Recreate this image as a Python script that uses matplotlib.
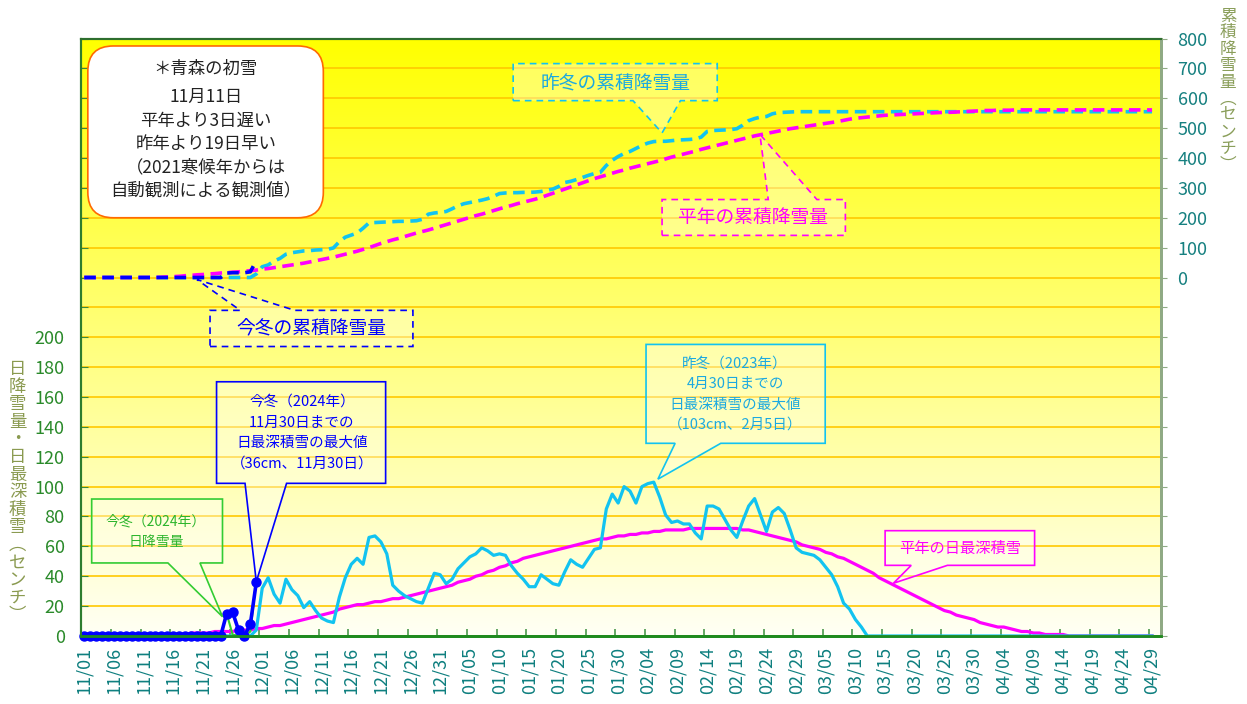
import matplotlib
matplotlib.use('Agg')
import matplotlib.pyplot as plt
from matplotlib.patches import Polygon, FancyBboxPatch
from matplotlib.ticker import FuncFormatter
import numpy as np
import pandas as pd

plt.rcParams['font.family'] = ['Noto Sans CJK JP', 'DejaVu Sans']

# 日付ラベル (11/01 - 04/29, 2月は29日まで)
dates = pd.date_range('2023-11-01', periods=181).strftime('%m/%d').tolist()

# 今冬 (2024年) 日最深積雪・日降雪量・累積降雪量 (11/01 - 11/30)
cur_depth = [0] * 24 + [15, 16, 4, 0, 8, 36]
cur_snow = [0] * 24 + [15, 1, 0, 0, 3, 38]
cur_cum = [0] * 24 + [15, 16, 16, 16, 19, 57]

# 昨冬 (2023年) 日最深積雪
prev_depth = [0] * 29 + [
    4, 32, 39, 28, 22, 38, 31, 27, 19, 23,
    17, 12, 10, 9, 26, 39, 48, 52, 48, 66,
    67, 63, 55, 34, 30, 27, 25, 23, 22, 32,
    42, 41, 35, 38, 45, 49, 53, 55, 59, 57,
    54, 55, 54, 47, 42, 38, 33, 33, 41, 38,
    35, 34, 43, 51, 48, 46, 52, 58, 59, 85,
    95, 89, 100, 97, 89, 100, 102, 103, 93, 81,
    76, 77, 75, 75, 69, 65, 87, 87, 85, 78,
    71, 66, 77, 87, 92, 81, 70, 83, 86, 82,
    71, 59, 56, 55, 54, 51, 46, 41, 33, 22,
    18, 11, 6, 0] + [0] * 48

# 平年 日最深積雪
norm_depth = [0] * 14 + [1, 1, 1, 1, 2, 2, 2, 2, 3, 3, 3, 3, 4, 4, 4, 5] + [
    5, 6, 7, 7, 8, 9, 10, 11, 12, 13,
    14, 15, 16, 18, 19, 20, 21, 21, 22, 23,
    23, 24, 25, 25, 26, 27, 28, 29, 30, 31,
    32, 33, 34, 36, 37, 38, 40, 41, 43, 44,
    46, 47, 49, 50, 52, 53, 54, 55, 56, 57,
    58, 59, 60, 61, 62, 63, 64, 65, 65, 66,
    67, 67, 68, 68, 69, 69, 70, 70, 71, 71,
    71, 71, 72, 72, 72, 72, 72, 72, 72, 72,
    72, 71, 71, 70, 69, 68, 67, 66, 65, 64,
    63, 61, 60, 59, 58, 56, 55, 53, 52, 50,
    48, 46, 44, 42, 39, 37, 35, 33, 31, 29,
    27, 25, 23, 21, 19, 17, 16, 14, 13, 12,
    11, 9, 8, 7, 6, 6, 5, 4, 3, 3,
    2, 2, 1, 1, 1, 1, 0, 0, 0, 0] + [0] * 11

# 昨冬 累積降雪量
prev_cum = [0] * 29 + [
    12, 36, 42, 55, 64, 78, 83, 86, 89, 90,
    92, 93, 94, 99, 120, 135, 142, 149, 165, 183,
    184, 185, 186, 187, 188, 188, 189, 190, 195, 212,
    216, 218, 221, 230, 240, 247, 251, 255, 259, 264,
    272, 281, 283, 284, 284, 285, 285, 286, 288, 292,
    296, 305, 318, 322, 328, 335, 342, 348, 352, 375,
    392, 405, 415, 422, 432, 442, 450, 455, 456, 456,
    458, 460, 461, 462, 464, 470, 489, 492, 493, 494,
    495, 498, 510, 525, 532, 537, 539, 548, 552, 553,
    554] + [555] * 61

# 平年 累積降雪量
norm_cum = [0] * 13 + [
    1, 2, 3, 4, 6, 7, 9, 10, 12, 13,
    15, 16, 18, 19, 21, 23, 25, 28, 30, 33,
    36, 39, 42, 45, 48, 52, 56, 60, 64, 68,
    73, 78, 83, 88, 94, 100, 107, 114, 120, 126,
    131, 137, 143, 149, 154, 159, 165, 171, 177, 183,
    189, 195, 201, 207, 212, 218, 224, 230, 236, 241,
    247, 252, 257, 262, 268, 275, 282, 289, 296, 303,
    310, 317, 324, 331, 337, 343, 349, 355, 360, 366,
    371, 376, 381, 386, 391, 397, 403, 408, 413, 418,
    423, 429, 434, 439, 444, 449, 454, 459, 464, 469,
    474, 478, 482, 486, 490, 494, 498, 501, 504, 507,
    510, 513, 516, 519, 522, 526, 530, 533, 535, 537,
    539, 541, 543, 544, 545, 546, 547, 548, 549, 550,
    551, 552, 553, 553, 554, 555, 556, 557, 558, 559,
    559, 560, 560, 560, 561] + [561] * 23

BLUE = '#0000FF'
CYAN = '#12C3F0'
MAGENTA = '#FF00FF'
GREEN = '#33CC33'

fig = plt.figure(figsize=(12.47, 7.04), dpi=100)
ax = fig.add_axes([0.0652, 0.0966, 0.8658, 0.8487])
ax2 = ax.twinx()

x_all = np.arange(len(dates))
x_cur = np.arange(len(cur_depth))

ax.set_xlim(-0.5, 181.5)
ax.set_ylim(0, 400)
ax2.set_ylim(-1200, 800)

# 背景グラデーション (上: 黄色 → 下: ほぼ白)
blue_ch = np.linspace(0, 0.96, 256).reshape(-1, 1)
bg = np.dstack([np.ones_like(blue_ch), np.ones_like(blue_ch), blue_ch])
ax.imshow(bg, extent=(-0.5, 181.5, 0, 400), origin='upper', aspect='auto', zorder=0)

ax.set_yticks(np.arange(0, 401, 20))
ax.yaxis.grid(True, color='#FFC800', lw=1.2)
ax.yaxis.set_major_formatter(FuncFormatter(lambda v, p: f'{int(v)}' if v <= 200 else ''))
ax.tick_params(axis='y', direction='in', length=5, color='#3C8C3C', labelcolor='#2A8A2A',
               labelsize=13, pad=12)

ax2.set_yticks(np.arange(-1200, 801, 100))
ax2.yaxis.set_major_formatter(FuncFormatter(lambda v, p: f'{int(v)}' if v >= 0 else ''))
ax2.tick_params(axis='y', direction='out', length=4, color='#8FAA84', labelcolor='#168080',
                labelsize=13, pad=8)

ax.set_xticks(np.arange(0, 181, 5))
ax.set_xticklabels(dates[::5])
ax.set_xticks(np.arange(4.5, 181, 5), minor=True)
ax.tick_params(axis='x', which='major', length=0, labelrotation=90, labelcolor='#0E7F7F',
               labelsize=13, pad=8)
ax.tick_params(axis='x', which='minor', direction='in', length=5, color='#4C9A4C', width=1.2)

for a in (ax, ax2):
    a.spines['left'].set_color('#2E7D2E')
    a.spines['left'].set_linewidth(1.5)
    a.spines['bottom'].set_color('#1E8A1E')
    a.spines['bottom'].set_linewidth(2)
    a.spines['top'].set_color('#2E6E2E')
    a.spines['top'].set_linewidth(1.5)
    a.spines['right'].set_color('#8FAA84')
    a.spines['right'].set_linewidth(2)

# 日最深積雪・日降雪量
ax.plot(x_all, norm_depth, color=MAGENTA, lw=2.3, zorder=3, clip_on=False)
ax.plot(x_all, prev_depth, color=CYAN, lw=2.3, zorder=4, clip_on=False)
ax.plot(x_cur, cur_snow, color=GREEN, lw=1.5, zorder=5, clip_on=False)
ax.plot(x_cur, cur_depth, color=BLUE, lw=2.6, marker='o', ms=6.5, zorder=6, clip_on=False)

# 累積降雪量
ax2.plot(x_all, prev_cum, color=CYAN, lw=2.6, dashes=(3.2, 1.8), zorder=3)
ax2.plot(x_all, norm_cum, color=MAGENTA, lw=2.6, dashes=(3.2, 1.8), zorder=4)
ax2.plot(x_cur, cur_cum, color=BLUE, lw=2.6, dashes=(3.2, 1.8), zorder=5)


def callout(axis, box, tip, base, side, edge, ls='-', face=(1, 1, 1, 0.35)):
    x0, x1, y0, y1 = box
    b0, b1 = base
    if side == 'bottom':
        verts = [(x0, y0), (b0, y0), tip, (b1, y0), (x1, y0), (x1, y1), (x0, y1)]
    else:
        verts = [(x0, y0), (x1, y0), (x1, y1), (b1, y1), tip, (b0, y1), (x0, y1)]
    axis.add_patch(Polygon(verts, closed=True, fc=face, ec=edge, lw=1.2, ls=ls,
                           zorder=8, clip_on=False))


def lines(axis, x, ys, texts, color, size):
    for y, s in zip(ys, texts):
        axis.text(x, y, s, ha='center', va='center', color=color, fontsize=size, zorder=9)


# 初雪の説明
ax.add_patch(FancyBboxPatch((0.6, 280), 39.7, 115, boxstyle='round,pad=0,rounding_size=4.3',
                            mutation_aspect=3.97, fc='white', ec='#FF6A00', lw=1.2, zorder=8))
lines(ax, 20.5, [379.5, 360.8, 344.7, 329.3, 313.9, 298.5],
      ['＊青森の初雪', '11月11日', '平年より3日遅い', '昨年より19日早い',
       '（2021寒候年からは', '自動観測による観測値）'], '#222222', 12.5)

dash = (0, (4, 3))
callout(ax2, (72.3, 106.7, 592, 716), (97.4, 484), (92.5, 100.5), 'bottom', CYAN, dash)
lines(ax2, 89.5, [651], ['昨冬の累積降雪量'], '#1CA9E0', 13.5)

callout(ax2, (97.4, 128.3, 141, 261), (113.9, 479), (115.3, 123.5), 'top', MAGENTA, dash)
lines(ax2, 112.8, [201], ['平年の累積降雪量'], MAGENTA, 13.5)

callout(ax2, (21.2, 55.4, -231, -110), (19, -7), (26.3, 35.5), 'top', BLUE, dash)
lines(ax2, 38.3, [-171], ['今冬の累積降雪量'], BLUE, 13.5)

callout(ax, (1.25, 23.3, 48.9, 91.7), (23.3, 12.9), (14.1, 19.5), 'bottom', GREEN)
lines(ax, 12.1, [76.5, 63.1], ['今冬（2024年）', '日降雪量'], '#2DB52D', 10)

callout(ax, (22.3, 50.8, 102.2, 170.2), (29, 36.3), (27.1, 34.1), 'bottom', BLUE)
lines(ax, 36.7, [156.8, 142.8, 129, 115.6],
      ['今冬（2024年）', '11月30日までの', '日最深積雪の最大値', '（36cm、11月30日）'], BLUE, 10.5)

callout(ax, (94.7, 124.9, 129, 195.2), (96.7, 105), (99.6, 107.3), 'bottom', CYAN)
lines(ax, 109.7, [182.5, 168.5, 154.6, 141.2],
      ['昨冬（2023年）', '4月30日までの', '日最深積雪の最大値', '（103cm、2月5日）'], '#1CA9E0', 10.5)

callout(ax, (135, 160.2, 47.3, 70.5), (136.4, 35.3), (139.4, 145.5), 'bottom', MAGENTA)
lines(ax, 147.6, [58.9], ['平年の日最深積雪'], MAGENTA, 11)

# 縦書きの軸ラベル
left_label = '日降雪量・日最深積雪︵センチ︶'
for i, ch in enumerate(left_label):
    fig.text(17.5 / 1247, 1 - (369 + i * 17.6) / 704, ch, ha='center', va='center',
             fontsize=12.5, color='#8A9A50')
right_label = '累積降雪量︵センチ︶'
for i, ch in enumerate(right_label):
    fig.text(1228 / 1247, 1 - (16 + i * 16.6) / 704, ch, ha='center', va='center',
             fontsize=12, color='#8A9E5A')

fig.savefig('out.png', dpi=100)
